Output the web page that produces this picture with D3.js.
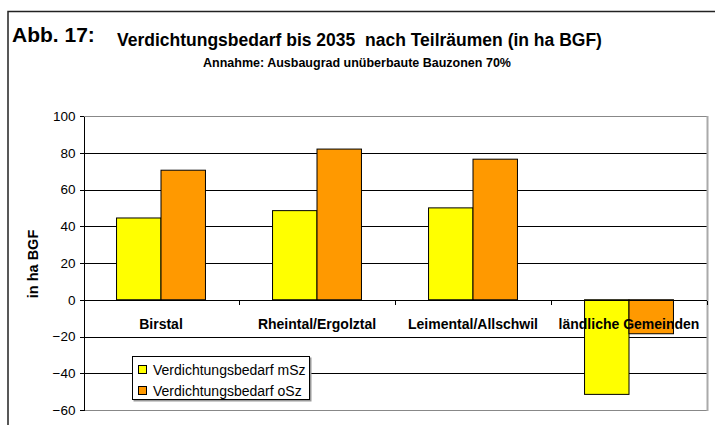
<!DOCTYPE html>
<html>
  <head>
    <meta charset="utf-8">
    <title>Verdichtungsbedarf bis 2035</title>
    <script src="https://cdn.jsdelivr.net/npm/d3@7"></script>
    <style>
      body { margin: 0; background: #fff; }
      svg { display: block; font-family: "Liberation Sans", Arial, sans-serif; }
      .axis text { font-size: 13.5px; fill: #000; }
      .axis path, .axis line { stroke: #000; shape-rendering: crispEdges; }
    </style>
  </head>
  <body>
    <svg id="chart" width="715" height="425"></svg>

    <script>
      // data
      const categories = ["Birstal", "Rheintal/Ergolztal", "Leimental/Allschwil", "ländliche Gemeinden"];
      const series = ["Verdichtungsbedarf mSz", "Verdichtungsbedarf oSz"];
      const mSz = [44.5, 48.5, 50, -51.5];
      const oSz = [70.5, 82, 76.5, -18.5];
      const yTicks = [-60, -40, -20, 0, 20, 40, 60, 80, 100];
      const colours = ["#ffff00", "#ff9900"];

      const chart = d3.select("#chart");

      // frame round the figure
      chart.append("path")
        .attr("d", "M8,425V11.5H715")
        .attr("fill", "none")
        .attr("stroke", "#222")
        .attr("stroke-width", 1.5);

      // titles
      chart.append("text")
        .attr("x", 12).attr("y", 42)
        .style("font-size", "21px").style("font-weight", "bold")
        .text("Abb. 17:");
      chart.append("text")
        .attr("x", 117).attr("y", 46)
        .style("font-size", "17.5px").style("font-weight", "bold")
        .text("Verdichtungsbedarf bis 2035\u00a0 nach Teilräumen (in ha BGF)");
      chart.append("text")
        .attr("x", 357).attr("y", 67)
        .attr("text-anchor", "middle")
        .style("font-size", "12.5px").style("font-weight", "bold")
        .text("Annahme: Ausbaugrad unüberbaute Bauzonen 70%");

      // scales
      const margin = { top: 116, right: 8, bottom: 15, left: 83 };
      const width = 715, height = 425;

      const x = d3.scaleBand()
        .domain(categories)
        .range([margin.left, width - margin.right]);
      const y = d3.scaleLinear()
        .domain([-60, 100])
        .range([height - margin.bottom, margin.top]);
      const groupW = x.bandwidth() * 0.57;
      const x1 = d3.scaleBand()
        .domain(series)
        .range([(x.bandwidth() - groupW) / 2, (x.bandwidth() + groupW) / 2]);

      // gridlines
      chart.append("g")
        .selectAll("line")
        .data(yTicks)
        .join("line")
          .attr("x1", margin.left)
          .attr("x2", width - margin.right)
          .attr("y1", d => Math.round(y(d)) + 0.5)
          .attr("y2", d => Math.round(y(d)) + 0.5)
          .attr("stroke", d => (d === 100 || d === -60) ? "#888" : "#000");

      // right border of the plot area
      chart.append("line")
        .attr("x1", width - margin.right + 0.5).attr("x2", width - margin.right + 0.5)
        .attr("y1", y(100)).attr("y2", y(-60) + 1)
        .attr("stroke", "#aaa").attr("stroke-width", 2);

      // bars
      const data = categories.map((c, i) => ({ cat: c, values: [mSz[i], oSz[i]] }));
      chart.append("g")
        .selectAll("g")
        .data(data)
        .join("g")
          .attr("transform", d => "translate(" + x(d.cat) + ",0)")
        .selectAll("rect")
        .data(d => d.values.map((v, j) => ({ key: series[j], value: v, j: j })))
        .join("rect")
          .attr("x", d => x1(d.key))
          .attr("width", x1.bandwidth())
          .attr("y", d => y(Math.max(0, d.value)))
          .attr("height", d => Math.abs(y(d.value) - y(0)))
          .attr("fill", d => colours[d.j])
          .attr("stroke", "#000")
          .attr("stroke-width", 1);

      // y axis
      chart.append("g")
        .attr("class", "axis")
        .attr("transform", "translate(" + (margin.left + 0.5) + ",0)")
        .call(d3.axisLeft(y).tickValues(yTicks).tickSize(4).tickSizeOuter(0).tickPadding(4));

      // x axis on zero line
      const xAxisG = chart.append("g")
        .attr("class", "axis")
        .attr("transform", "translate(0," + (Math.round(y(0)) + 0.5) + ")");
      xAxisG.append("line")
        .attr("x1", margin.left).attr("x2", width - margin.right)
        .attr("stroke", "#000");
      xAxisG.selectAll(".tick")
        .data(categories.slice(1).map(c => x(c)).concat([x.range()[1]]))
        .join("line")
          .attr("x1", d => Math.round(d) + 0.5).attr("x2", d => Math.round(d) + 0.5)
          .attr("y1", 0).attr("y2", 4)
          .attr("stroke", "#000");
      xAxisG.selectAll(".cat")
        .data(categories)
        .join("text")
          .attr("x", d => x(d) + x.bandwidth() / 2)
          .attr("y", 28)
          .attr("text-anchor", "middle")
          .style("font-size", "14px").style("font-weight", "bold")
          .text(d => d);

      // y axis title
      chart.append("text")
        .attr("transform", "translate(38,264) rotate(-90)")
        .attr("text-anchor", "middle")
        .style("font-size", "14.5px").style("font-weight", "bold")
        .text("in ha BGF");

      // legend
      const legend = chart.append("g").attr("transform", "translate(132,356)");
      legend.append("rect")
        .attr("x", 1.5).attr("y", 1.5).attr("width", 178).attr("height", 44)
        .attr("fill", "#999");
      legend.append("rect")
        .attr("x", 0.5).attr("y", 0.5).attr("width", 177).attr("height", 43)
        .attr("fill", "#fff").attr("stroke", "#000");
      const items = legend.selectAll(".item")
        .data(series)
        .join("g")
          .attr("transform", (d, i) => "translate(6," + (9.5 + i * 21) + ")");
      items.append("rect")
        .attr("x", 0.5).attr("width", 8).attr("height", 8)
        .attr("fill", (d, i) => colours[i])
        .attr("stroke", "#000");
      items.append("text")
        .attr("x", 15).attr("y", 9.5)
        .style("font-size", "14px")
        .text(d => d);
    </script>
  </body>
</html>
